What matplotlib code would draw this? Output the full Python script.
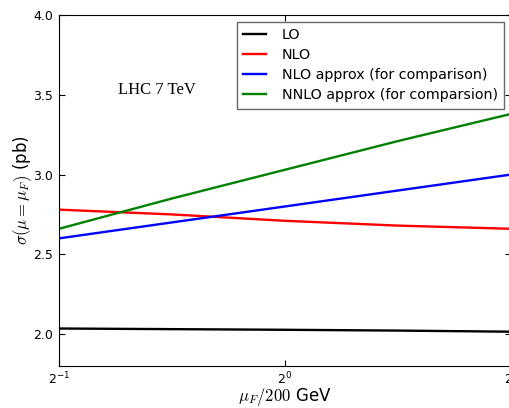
import matplotlib
matplotlib.use("Agg")
import matplotlib.pyplot as plt
from matplotlib.ticker import FixedLocator, LogFormatterMathtext, NullLocator

plt.rcParams["mathtext.fontset"] = "cm"

mu_ratio = [0.5, 0.7071, 1.0, 1.4142, 2.0]
lo = [2.035, 2.031, 2.027, 2.022, 2.015]
nlo = [2.78, 2.75, 2.71, 2.68, 2.66]
nlo_approx = [2.60, 2.70, 2.80, 2.90, 3.00]
nnlo_approx = [2.66, 2.85, 3.03, 3.21, 3.38]

fig = plt.figure(figsize=(5.09, 4.08), dpi=100)
# axes runs a little past the right edge, like the original crop
ax = fig.add_axes([59 / 509, 42 / 408, 452 / 509, 351 / 408])

ax.plot(mu_ratio, lo, color="black", lw=1.7, label="LO")
ax.plot(mu_ratio, nlo, color="red", lw=1.7, label="NLO")
ax.plot(mu_ratio, nlo_approx, color="blue", lw=1.7, label="NLO approx (for comparison)")
ax.plot(mu_ratio, nnlo_approx, color="green", lw=1.7, label="NNLO approx (for comparsion)")

ax.set_xscale("log", base=2)
ax.set_xlim(0.5, 2.0)
ax.set_ylim(1.8, 4.0)
ax.xaxis.set_major_locator(FixedLocator([0.5, 1.0, 2.0]))
ax.xaxis.set_major_formatter(LogFormatterMathtext(base=2))
ax.xaxis.set_minor_locator(NullLocator())
ax.set_yticks([2.0, 2.5, 3.0, 3.5, 4.0])
ax.tick_params(direction="in", top=True, right=True, length=4, labelsize=9, pad=4.5)
ax.tick_params(axis="x", pad=3.5)

ax.set_xlabel(r"$\mu_F/200$ GeV", fontsize=12, labelpad=-1)
ax.set_ylabel(r"$\sigma(\mu=\mu_F)$ (pb)", fontsize=12, labelpad=-1)

ax.text(0.13, 0.775, "LHC 7 TeV", transform=ax.transAxes, fontsize=12,
        family="Liberation Serif")

leg = ax.legend(loc="upper right", bbox_to_anchor=(0.985, 0.98), fontsize=10.3,
                fancybox=False, handlelength=1.6, labelspacing=0.42,
                borderpad=0.45, handletextpad=1.1, borderaxespad=0)
leg.get_frame().set_edgecolor("#444444")

fig.savefig("out.png", dpi=100)
